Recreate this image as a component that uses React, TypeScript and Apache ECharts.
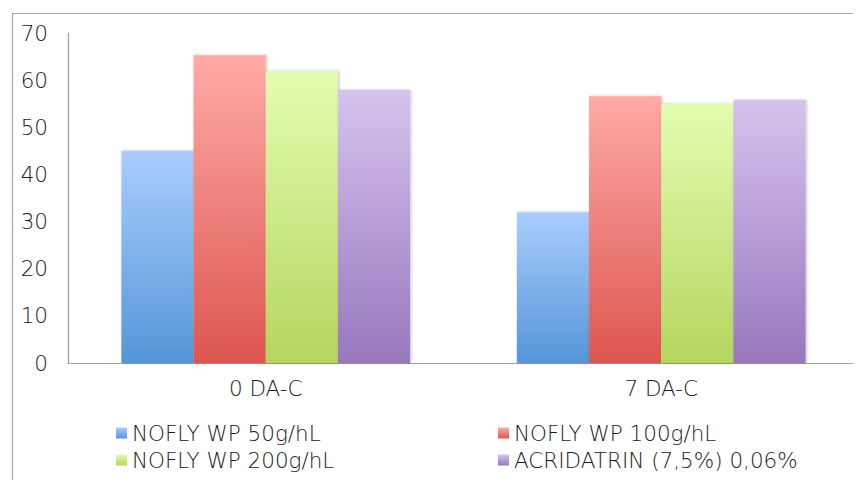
import React, { useEffect, useRef } from "react";
import * as echarts from "echarts";

const categories = ["0 DA-C", "7 DA-C"];
const seriesNames = [
  "NOFLY WP 50g/hL",
  "NOFLY WP 100g/hL",
  "NOFLY WP 200g/hL",
  "ACRIDATRIN (7,5%) 0,06%",
];
const nofly50 = [45, 32];
const nofly100 = [65.3, 56.6];
const nofly200 = [61.9, 54.9];
const acridatrin = [57.9, 55.8];
const yTicks = { min: 0, max: 70, interval: 10 };

const gradients = [
  ["#aacdfd", "#5495d8"],
  ["#ffaaa7", "#dc564f"],
  ["#e2fdb0", "#b4d55f"],
  ["#d6c2ee", "#9877bd"],
];

export default function App() {
  const ref = useRef<HTMLDivElement>(null);
  useEffect(() => {
    if (!ref.current) return;
    const chart = echarts.init(ref.current, null, { renderer: "svg" });
    const values = [nofly50, nofly100, nofly200, acridatrin];
    const font = "'DejaVu Sans', sans-serif";
    const fs = 21.5;
    const txt = "#1a1a1a";
    const legendText = { color: txt, fontSize: fs, fontWeight: 300, fontFamily: font };
    chart.setOption({
      animation: false,
      textStyle: { fontFamily: font },
      graphic: [
        {
          type: "rect",
          left: 10,
          top: 11,
          shape: { width: 900, height: 520 },
          style: { fill: "none", stroke: "#a6a6a6", lineWidth: 1.2 },
          silent: true,
        },
      ],
      grid: { left: 68, right: 2, top: 33, bottom: 125, containLabel: false },
      xAxis: {
        type: "category",
        data: categories,
        axisLine: { lineStyle: { color: "#a0a0a0", width: 1.2 } },
        axisTick: { show: false },
        axisLabel: { color: txt, fontSize: fs, fontWeight: 300, margin: 14, fontFamily: font },
      },
      yAxis: {
        type: "value",
        min: yTicks.min,
        max: yTicks.max,
        interval: yTicks.interval,
        axisLine: { show: true, lineStyle: { color: "#a0a0a0", width: 1.2 } },
        axisTick: { show: false },
        axisLabel: { color: txt, fontSize: fs, fontWeight: 300, margin: 20, fontFamily: font },
        splitLine: {
          lineStyle: {
            color: "#a0a0a0",
            width: 1.5,
            shadowColor: "rgba(0,0,0,0.15)",
            shadowBlur: 2,
            shadowOffsetY: 1,
          },
        },
      },
      legend: [
        {
          data: [seriesNames[0], seriesNames[2]],
          orient: "vertical",
          left: 111,
          top: 417,
          itemWidth: 11,
          itemHeight: 11,
          itemGap: 5,
          icon: "rect",
          textStyle: legendText,
        },
        {
          data: [seriesNames[1], seriesNames[3]],
          orient: "vertical",
          left: 493,
          top: 417,
          itemWidth: 11,
          itemHeight: 11,
          itemGap: 5,
          icon: "rect",
          textStyle: legendText,
        },
      ],
      series: seriesNames.map((name, i) => ({
        name,
        type: "bar",
        data: values[i],
        barGap: "0%",
        barCategoryGap: "27%",
        itemStyle: {
          color: new echarts.graphic.LinearGradient(0, 0, 0, 1, [
            { offset: 0, color: gradients[i][0] },
            { offset: 1, color: gradients[i][1] },
          ]),
          shadowColor: "rgba(0,0,0,0.25)",
          shadowBlur: 3,
          shadowOffsetX: 1,
        },
      })),
    });
    return () => chart.dispose();
  }, []);
  return <div ref={ref} style={{ width: 861, height: 488, margin: -8 }} />;
}
